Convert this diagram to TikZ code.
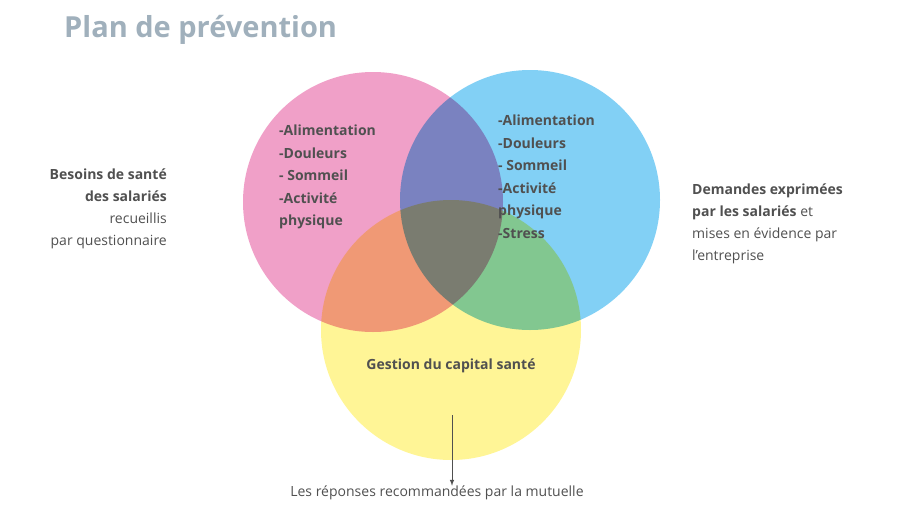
\documentclass[tikz,border=0pt]{standalone}
\usepackage{fontspec}
\setmainfont{Open Sans}
\definecolor{pinkc}{RGB}{240,160,200}
\definecolor{bluec}{RGB}{130,208,245}
\definecolor{yellc}{RGB}{255,245,150}
\definecolor{txt}{RGB}{80,80,80}
\definecolor{ttl}{RGB}{160,176,188}
\begin{document}
\begin{tikzpicture}[x=1pt,y=-1pt,
  lbl/.style={text=txt,font=\fontsize{14}{22}\selectfont,inner sep=0pt},
  circ/.style={circle,minimum size=260pt,inner sep=0pt}]
\useasboundingbox (0,0) rectangle (900,522);
\begin{scope}[blend group=multiply]
\node[circ,fill=pinkc] (p) at (373,202) {};
\node[circ,fill=bluec] (b) at (530,200) {};
\node[circ,fill=yellc] (y) at (451,330) {};
\end{scope}
\node[anchor=west,text=ttl,font=\fontsize{29}{30}\selectfont\bfseries,inner sep=0pt] (t) at (64,30) {Plan de prévention};
\node[lbl,anchor=north west,align=left,font=\fontsize{14}{22.5}\selectfont\bfseries] (pt) at (279,125) {-Alimentation\\-Douleurs\\- Sommeil\\-Activité\\physique};
\node[lbl,anchor=north west,align=left,font=\fontsize{14}{22.5}\selectfont\bfseries] (bt) at (498,115) {-Alimentation\\-Douleurs\\ - Sommeil\\-Activité\\physique\\-Stress};
\node[lbl,font=\fontsize{14}{17}\selectfont\bfseries] (yt) at (451,366) {Gestion du capital santé};
\node[lbl,anchor=north east,align=right] (lt) at (167,169) {\textbf{Besoins de santé}\\\textbf{des salariés}\\recueillis\\par questionnaire};
\node[lbl,anchor=north west,align=left] (rt) at (692,184) {\textbf{Demandes exprimées}\\\textbf{par les salariés} et\\mises en évidence par\\l’entreprise};
\node[lbl] (bot) at (437,493) {Les réponses recommandées par la mutuelle};
\coordinate (a0) at (452,415);
\draw[txt,line width=1pt,-latex] (a0) -- (bot.north -| a0);
\end{tikzpicture}
\end{document}
